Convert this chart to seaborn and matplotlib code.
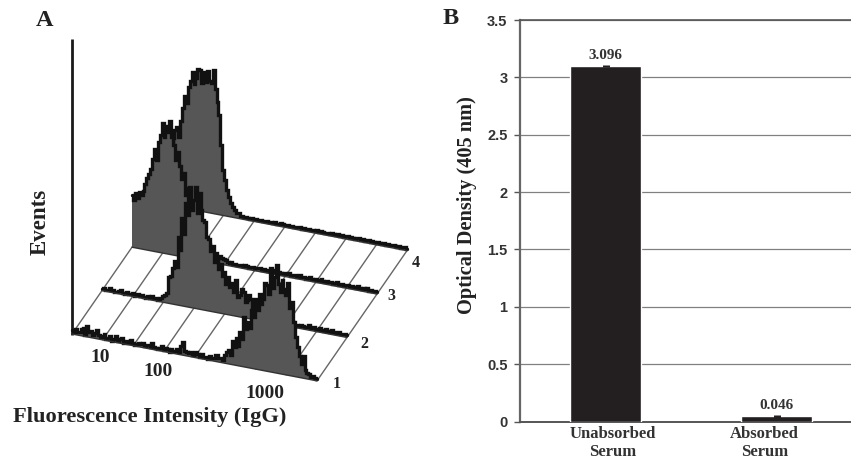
import matplotlib
matplotlib.use('Agg')
import numpy as np
import pandas as pd
import matplotlib.pyplot as plt
import seaborn as sns

# panel A: events per channel (every 2 channels), one list per sample, front to back
channel_step = 2
events_1 = [4, 2, 6, 3, 3, 7, 8, 2, 11, 5, 7, 3, 5, 9, 4, 2,
            4, 6, 2, 3, 5, 1, 3, 6, 2, 4, 6, 1, 3, 4, 2, 5,
            3, 1, 2, 4, 3, 5, 2, 3, 4, 2, 6, 3, 2, 1, 3, 5,
            2, 4, 3, 1, 4, 2, 3, 5, 2, 9, 13, 5, 4, 3, 5, 2,
            3, 6, 4, 2, 5, 2, 3, 1, 4, 3, 3, 6, 7, 4, 5, 3,
            8, 12, 14, 9, 24, 18, 27, 20, 34, 28, 50, 38, 46, 40, 58, 52,
            70, 60, 76, 66, 72, 88, 86, 78, 104, 84, 96, 108, 90, 82, 94, 86,
            80, 92, 68, 74, 54, 40, 30, 22, 14, 22, 9, 6, 5, 3, 4, 2,
            2]
events_2 = [2, 3, 1, 2, 4, 2, 3, 1, 2, 3, 4, 2, 1, 3, 2, 2,
            3, 1, 2, 4, 2, 3, 2, 1, 3, 2, 4, 2, 3, 1, 3, 4,
            6, 8, 10, 26, 28, 36, 44, 38, 68, 56, 88, 72, 104, 92, 120, 98,
            108, 122, 96, 116, 100, 90, 88, 74, 72, 60, 66, 50, 55, 44, 49, 38,
            42, 30, 38, 28, 32, 24, 36, 20, 22, 28, 26, 16, 18, 24, 20, 12,
            10, 8, 6, 4, 4, 3, 3, 5, 3, 2, 3, 4, 2, 3, 4, 2,
            3, 4, 2, 3, 5, 2, 3, 2, 4, 3, 2, 3, 5, 2, 3, 4,
            3, 2, 4, 3, 2, 4, 3, 2, 5, 3, 2, 3, 4, 2, 3, 3,
            2]
events_3 = [52, 48, 55, 50, 57, 54, 58, 66, 72, 76, 82, 92, 103, 92, 110, 118,
            130, 116, 128, 122, 134, 118, 110, 96, 104, 90, 78, 84, 62, 70, 50, 56,
            44, 36, 38, 30, 28, 34, 22, 16, 18, 14, 14, 8, 10, 6, 8, 6,
            6, 5, 4, 3, 4, 3, 3, 2, 3, 3, 2, 4, 3, 2, 3, 3,
            2, 3, 3, 4, 2, 3, 3, 2, 3, 4, 3, 3, 2, 3, 3, 2,
            3, 3, 4, 2, 3, 3, 2, 3, 4, 3, 3, 2, 3, 4, 3, 2,
            3, 2, 3, 4, 3, 2, 4, 3, 3, 2, 3, 4, 2, 3, 3, 2,
            3, 4, 2, 3, 3, 2, 4, 3, 2, 3, 3, 4, 2, 3, 2, 3,
            2]
events_4 = [45, 48, 50, 56, 60, 64, 68, 76, 80, 70, 86, 100, 112, 106, 122, 128,
            138, 126, 132, 144, 141, 128, 140, 130, 142, 132, 130, 144, 125, 112, 100, 70,
            46, 36, 26, 20, 14, 10, 8, 5, 5, 3, 3, 3, 3, 2, 2, 3,
            2, 3, 2, 2, 3, 2, 3, 3, 2, 3, 2, 3, 2, 2, 3, 3,
            2, 3, 3, 2, 3, 2, 2, 3, 3, 2, 3, 2, 3, 3, 2, 3,
            2, 3, 2, 3, 3, 2, 2, 3, 2, 3, 3, 2, 3, 2, 3, 2,
            3, 3, 2, 3, 2, 2, 3, 3, 2, 3, 2, 3, 3, 2, 3, 2,
            2, 3, 3, 2, 3, 2, 3, 2, 3, 3, 2, 2, 3, 2, 3, 3,
            2]
samples = [events_1, events_2, events_3, events_4]
sample_labels = ['1', '2', '3', '4']
intensity_labels = ['10', '100', '1000']

# panel B
serum_labels = ['Unabsorbed\nSerum', 'Absorbed\nSerum']
od_values = [3.096, 0.046]
od_errors = [0.01, 0.012]
od_ticks = [0, 0.5, 1, 1.5, 2, 2.5, 3, 3.5]
od_ticklabels = ['0', '0.5', '1', '1.5', '2', '2.5', '3', '3.5']

W, H = 851, 462
sns.set_style('white')
plt.rcParams['font.family'] = ['Liberation Serif', 'DejaVu Serif']
fig = plt.figure(figsize=(W / 100, H / 100), dpi=100)


# oblique projection of (channel, sample row, height) on the page
def project(channel, row, height=0):
    channel = np.asarray(channel, dtype=float)
    x = 72 + 0.957 * channel + 30 * row
    y = 334 + 0.183 * channel - 43.4 * row - np.asarray(height, dtype=float)
    return x, y


axa = fig.add_axes([0, 0, 1, 1])
axa.set_xlim(0, W)
axa.set_ylim(H, 0)
axa.axis('off')

# floor grid
for ch in np.linspace(0, 256, 9):
    x, y = project([ch, ch], np.array([0, 3]))
    axa.plot(x, y, color='#666666', lw=1.0, zorder=1)

# events axis
axa.plot([72, 72], [39, 335], color='#1a1a1a', lw=2, zorder=1, solid_capstyle='butt')

# histograms back to front
for row in [3, 2, 1, 0]:
    counts = np.array(samples[row], dtype=float)
    channels = np.arange(len(counts)) * channel_step
    x, y = project(channels, row, counts)
    xb, yb = project(channels, row)
    y = np.maximum(y, 69)
    z = 10 + 2 * (3 - row)
    axa.fill_between(x, y, yb, step='mid', color='#565656', lw=0, zorder=z)
    df = pd.DataFrame({'x': x, 'y': y})
    sns.lineplot(data=df, x='x', y='y', estimator=None, sort=False, drawstyle='steps-mid',
                 color='#111111', lw=2.4, ax=axa, zorder=z + 1, solid_joinstyle='miter')
    axa.plot(xb, yb, color='#333333', lw=1.0, zorder=z + 1)
axa.set_xlim(0, W)
axa.set_ylim(H, 0)
axa.set_xlabel('')
axa.set_ylabel('')

for lab, px, py in zip(sample_labels, [337, 364, 391, 416], [384, 344, 296, 263]):
    axa.text(px, py, lab, fontsize=11.5, fontweight='bold', ha='center', va='center', color='#222222')
for lab, px, py in zip(intensity_labels, [100, 158, 265], [358, 372, 394]):
    axa.text(px, py, lab, fontsize=14, fontweight='bold', ha='center', va='center', color='#222222')
axa.text(150, 417, 'Fluorescence Intensity (IgG)', fontsize=16.2, fontweight='bold', ha='center', va='center',
         color='#222222')
axa.text(40, 222, 'Events', fontsize=16.5, fontweight='bold', rotation=90, ha='center', va='center', color='#222222')
axa.text(45, 21, 'A', fontsize=17.5, fontweight='bold', ha='center', va='center', color='#222222')
axa.text(451, 18, 'B', fontsize=17.5, fontweight='bold', ha='center', va='center', color='#222222')

# panel B, right side runs off the page like the original
axb = fig.add_axes([520 / W, (H - 421.5) / H, 342 / W, 401.5 / H])
axb.patch.set_alpha(0)
sns.barplot(x=serum_labels, y=od_values, color='#231f20', saturation=1, width=0.41, ax=axb, zorder=3)
axb.errorbar([0, 1], od_values, yerr=od_errors, fmt='none', ecolor='#231f20', elinewidth=5, zorder=4)
axb.set_ylim(0, 3.5)
axb.set_xlim(-0.5, 1.5)
axb.set_yticks(od_ticks)
axb.set_yticklabels(od_ticklabels, family='Liberation Sans', fontweight='bold', fontsize=10.5, color='#333333')
axb.tick_params(axis='y', left=True, length=4, width=1, color='#555555', pad=5)
axb.grid(axis='y', color='#808080', lw=0.9)
axb.grid(axis='x', visible=False)
axb.set_axisbelow(True)
axb.spines['left'].set_color('#666666')
axb.spines['left'].set_linewidth(1.6)
axb.spines['bottom'].set_color('#555555')
axb.spines['bottom'].set_linewidth(1.4)
axb.spines['top'].set_color('#555555')
axb.spines['top'].set_linewidth(1.2)
axb.spines['right'].set_visible(False)
axb.set_xticks([0, 1])
axb.set_xticklabels([])
axb.tick_params(axis='x', bottom=False)
axb.set_ylabel('Optical Density (405 nm)', fontsize=14.7, fontweight='bold', color='#222222', labelpad=0)
axb.yaxis.set_label_coords((477 - 520) / 342, (421.5 - 205) / 401.5)

for i, (v, lab) in enumerate(zip(od_values, serum_labels)):
    axb.annotate(f'{v:.3f}', xy=(i, v), xytext=(0, 4), textcoords='offset pixels', ha='center', va='bottom',
                 fontsize=11, fontweight='bold', color='#333333')
    first, second = lab.split('\n')
    offset = [7, -12][i]
    axb.annotate(first, xy=(i, 0), xytext=(offset, -13), textcoords='offset pixels', ha='center', va='center',
                 fontsize=12, fontweight='bold', color='#333333', annotation_clip=False)
    axb.annotate(second, xy=(i, 0), xytext=(offset, -31), textcoords='offset pixels', ha='center', va='center',
                 fontsize=12, fontweight='bold', color='#333333', annotation_clip=False)

fig.savefig('out.png', dpi=100)
